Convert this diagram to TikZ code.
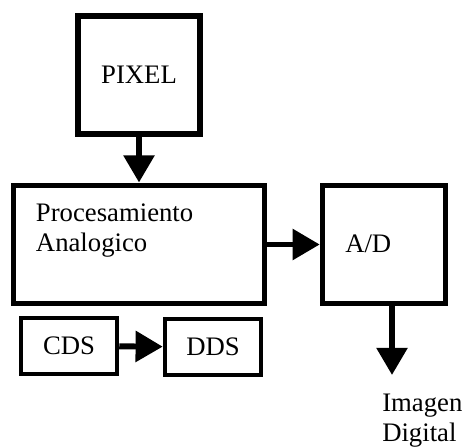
\documentclass[tikz,border=0pt]{standalone}
\usepackage{fontspec}
\setmainfont{Liberation Serif}
\usepackage{tikz}
\usetikzlibrary{arrows.meta,positioning}
\tikzset{
  block/.style={draw=black,line width=3.9pt,fill=white,inner sep=0pt,
                font=\fontsize{19}{21.3}\selectfont},
  smallblock/.style={block,line width=3.2pt,minimum width=2.4cm,minimum height=1.4cm},
  flow/.style={-{Triangle[length=6.8mm,width=7.5mm]},line width=4.2pt},
  lab/.style={inner sep=0pt,align=left,font=\fontsize{19}{21.3}\selectfont},
}

\begin{document}
\begin{tikzpicture}[x=1cm,y=1cm]
  \path[use as bounding box] (0,0) rectangle (11.55,11.175);

  \node[block,minimum width=3.06cm,minimum height=2.95cm] (pixel) at (3.475,9.3) {PIXEL};
  \node[block,minimum width=6.275cm,minimum height=2.9625cm] (proc) at (3.475,5.0625) {};
  \node[lab,anchor=north west] (proclab) at (0.8925,6.08)
    {Procesamiento\\Analogico};
  \node[block,minimum width=3.075cm,minimum height=2.9625cm] (ad) at (9.6,5.0625) {};
  \node[lab,anchor=base west] (adlab) at (8.625,4.85) {A/D};

  \node[smallblock] (cds) at (1.725,2.525) {CDS};
  \node[smallblock] (dds) at (5.325,2.5) {DDS};

  \coordinate (imgtip) at (9.8,1.8);
  \node[lab,anchor=north west] (imglab) at (9.55,1.34)
    {Imagen\\Digital};

  \draw[flow] (pixel) -- (proc);
  \draw[flow] (proc) -- (ad);
  \draw[flow] (ad.south -| imgtip) -- (imgtip);
  \draw[flow] (cds) -- (dds);
\end{tikzpicture}
\end{document}
